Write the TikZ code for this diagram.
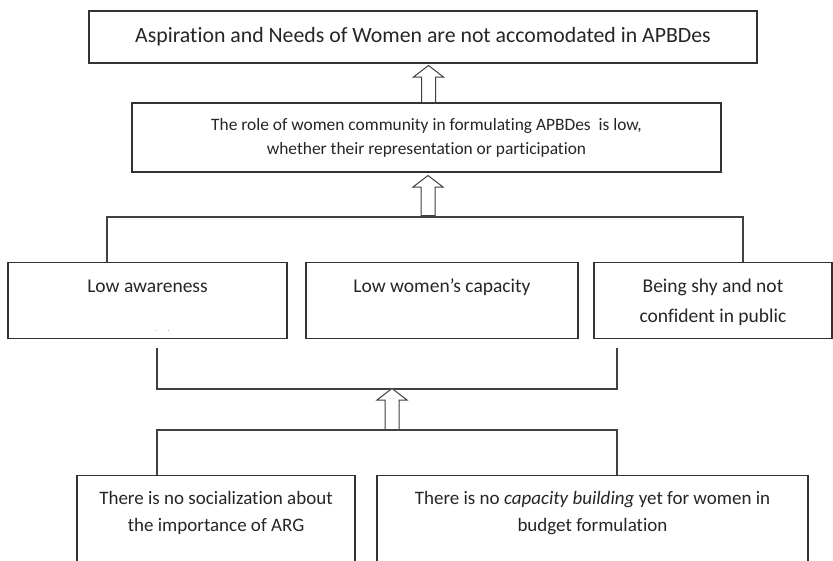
\documentclass[tikz,border=0pt]{standalone}
\usepackage{fontspec}
\setmainfont[Ligatures=NoCommon]{Carlito}
\usepackage{tikz}
\usetikzlibrary{calc}
\usetikzlibrary{shapes.arrows}

\tikzset{
  box/.style={draw=black!80,line width=1.2pt,inner sep=0pt,align=flush center,
    text=black!85},
  cause/.style={box,anchor=north,text height=30pt,text depth=46pt,
    font=\fontsize{19.5}{30}\selectfont},
  root/.style={box,anchor=north,text height=29pt,text depth=80pt,
    font=\fontsize{19}{27}\selectfont},
  link/.style={draw=black!75,line width=1.2pt},
  uparrow/.style={single arrow,draw=black!75,line width=1pt,fill=white,
    shape border rotate=90,inner sep=6.5pt,
    single arrow head extend=8pt,single arrow tip angle=105,anchor=tail}
}

\begin{document}
\begin{tikzpicture}[x=1pt,y=-1pt]
\clip (0,0) rectangle (833,560);
\fill[white] (0,0) rectangle (833,560);

% Problem and its direct cause
\node[box,minimum width=668pt,minimum height=52pt,
  font=\fontsize{21.8}{24}\selectfont] (goal) at (423,37)
  {Aspiration and Needs of Women are not accomodated in APBDes};
\node[box,minimum width=589pt,minimum height=69pt,
  font=\fontsize{17.4}{24}\selectfont] (role) at (426.5,137.5)
  {The role of women community in formulating APBDes\ \ is low,\\
   whether their representation or participation};

% Causes
\node[cause,text width=279pt] (aware) at (147.5,262)
  {Low awareness\\[9pt]{\scriptsize\color{black!60}\hspace*{30pt}.\hspace{11pt}.}};
\node[cause,text width=272pt] (capac) at (442,262) {Low women’s capacity};
\node[cause,text width=238pt] (shy) at (713,262)
  {Being shy and not\\ confident in public};

% Root causes
\node[root,text width=278pt] (social) at (216,475)
  {There is no socialization about\\ the importance of ARG};
\node[root,text width=431pt] (build) at (592.5,475)
  {There is no \textit{capacity building} yet for women in\\ budget formulation};

% Brackets
\coordinate (capL) at (107,217);
\coordinate (capR) at (743,217);
\draw[link] (aware.north -| capL) -- (capL) -- (capR) -- (shy.north -| capR);

\coordinate (cupL) at (157,389);
\coordinate (cupR) at (617,389);
\draw[link] ([yshift=-9pt]aware.south -| cupL) -- (cupL) -- (cupR)
  -- ([yshift=-9pt]shy.south -| cupR);

\coordinate (baseL) at (157,430);
\coordinate (baseR) at (617,430);
\draw[link] (social.north -| baseL) -- (baseL) -- (baseR) -- (build.north -| baseR);

% Block arrows
\node[uparrow,minimum height=37pt] (up1) at (428.5,103) {};
\node[uparrow,minimum height=40pt] (up2) at (428,216) {};
\node[uparrow,minimum height=41pt] (up3) at (392,430) {};

\end{tikzpicture}
\end{document}
